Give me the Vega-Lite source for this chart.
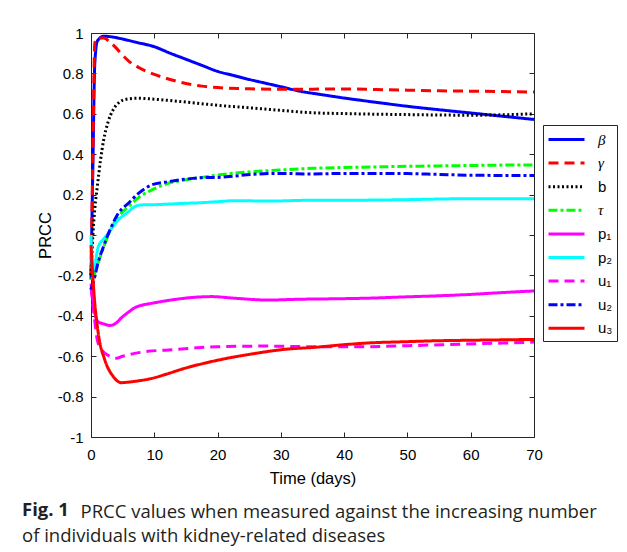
{
  "$schema": "https://vega.github.io/schema/vega-lite/v6.json",
  "width": 443,
  "height": 404,
  "autosize": "none",
  "padding": {"left": 91, "top": 33, "right": 93, "bottom": 115},
  "background": "white",
  "config": {
    "font": "Liberation Sans",
    "view": {"stroke": "#262626", "strokeWidth": 1},
    "axis": {
      "domainColor": "#262626", "tickColor": "#262626", "labelColor": "#000000", "titleColor": "#000000",
      "labelFontSize": 15, "titleFontSize": 16.5, "titleFontWeight": "normal", "grid": false,
      "labelFont": "Liberation Sans", "titleFont": "Liberation Sans", "tickSize": -5, "labelFlush": false
    },
    "legend": {
      "orient": "none", "legendX": 452, "legendY": 92,
      "strokeColor": "#262626", "fillColor": "white", "padding": 4,
      "symbolType": "M-2,0H2", "symbolSize": 324, "symbolStrokeWidth": 3, "symbolOffset": 9,
      "labelFontSize": 15, "labelFont": "Liberation Sans", "labelColor": "#000000", "rowPadding": 4.6, "labelOffset": 21
    }
  },
  "title": {
    "text": "Fig. 1",
    "orient": "bottom", "anchor": "start", "frame": "group", "dx": -69, "offset": -20,
    "font": "Open Sans", "fontSize": 18.5, "fontWeight": "bold", "color": "#231f20",
    "subtitle": "of individuals with kidney-related diseases",
    "subtitleFont": "Open Sans", "subtitleFontSize": 18.5, "subtitleColor": "#231f20", "subtitleFontWeight": "normal",
    "subtitlePadding": 7.5
  },
  "data": {"values": [
    {"s":"β","t":0,"v":-0.22},{"s":"β","t":0.3,"v":0.35},{"s":"β","t":0.6,"v":0.85},{"s":"β","t":1,"v":0.96},{"s":"β","t":2,"v":0.984},{"s":"β","t":3,"v":0.982},{"s":"β","t":5,"v":0.97},{"s":"β","t":7,"v":0.955},{"s":"β","t":10,"v":0.932},{"s":"β","t":12.5,"v":0.9},{"s":"β","t":15,"v":0.87},{"s":"β","t":17.5,"v":0.84},{"s":"β","t":20,"v":0.81},{"s":"β","t":22.5,"v":0.79},{"s":"β","t":25,"v":0.77},{"s":"β","t":27.5,"v":0.752},{"s":"β","t":30,"v":0.734},{"s":"β","t":33,"v":0.712},{"s":"β","t":36,"v":0.697},{"s":"β","t":40,"v":0.678},{"s":"β","t":45,"v":0.657},{"s":"β","t":50,"v":0.637},{"s":"β","t":55,"v":0.62},{"s":"β","t":60,"v":0.604},{"s":"β","t":65,"v":0.588},{"s":"β","t":70,"v":0.572},
    {"s":"γ","t":0,"v":-0.2},{"s":"γ","t":0.3,"v":0.4},{"s":"γ","t":0.6,"v":0.95},{"s":"γ","t":1,"v":0.975},{"s":"γ","t":2,"v":0.975},{"s":"γ","t":3,"v":0.955},{"s":"γ","t":4,"v":0.925},{"s":"γ","t":5,"v":0.89},{"s":"γ","t":6,"v":0.86},{"s":"γ","t":7.5,"v":0.83},{"s":"γ","t":10,"v":0.795},{"s":"γ","t":12.5,"v":0.77},{"s":"γ","t":15,"v":0.75},{"s":"γ","t":17.5,"v":0.737},{"s":"γ","t":20,"v":0.73},{"s":"γ","t":25,"v":0.724},{"s":"γ","t":30,"v":0.721},{"s":"γ","t":35,"v":0.722},{"s":"γ","t":40,"v":0.723},{"s":"γ","t":45,"v":0.72},{"s":"γ","t":50,"v":0.717},{"s":"γ","t":55,"v":0.714},{"s":"γ","t":60,"v":0.712},{"s":"γ","t":65,"v":0.71},{"s":"γ","t":70,"v":0.708},
    {"s":"b","t":0,"v":-0.2},{"s":"b","t":0.3,"v":0.0},{"s":"b","t":0.6,"v":0.13},{"s":"b","t":1,"v":0.24},{"s":"b","t":1.5,"v":0.37},{"s":"b","t":2,"v":0.47},{"s":"b","t":2.7,"v":0.56},{"s":"b","t":3.5,"v":0.62},{"s":"b","t":4.6,"v":0.66},{"s":"b","t":5.6,"v":0.672},{"s":"b","t":7.5,"v":0.677},{"s":"b","t":9.7,"v":0.673},{"s":"b","t":12,"v":0.667},{"s":"b","t":15,"v":0.658},{"s":"b","t":17.5,"v":0.65},{"s":"b","t":20,"v":0.642},{"s":"b","t":25,"v":0.63},{"s":"b","t":30,"v":0.617},{"s":"b","t":35,"v":0.605},{"s":"b","t":40,"v":0.601},{"s":"b","t":45,"v":0.598},{"s":"b","t":50,"v":0.596},{"s":"b","t":55,"v":0.594},{"s":"b","t":60,"v":0.593},{"s":"b","t":65,"v":0.595},{"s":"b","t":70,"v":0.6},
    {"s":"τ","t":0,"v":-0.22},{"s":"τ","t":0.5,"v":-0.2},{"s":"τ","t":1,"v":-0.15},{"s":"τ","t":2,"v":-0.06},{"s":"τ","t":3,"v":0.02},{"s":"τ","t":4.3,"v":0.09},{"s":"τ","t":5.9,"v":0.14},{"s":"τ","t":7.5,"v":0.185},{"s":"τ","t":9.6,"v":0.223},{"s":"τ","t":12.2,"v":0.256},{"s":"τ","t":14.8,"v":0.272},{"s":"τ","t":17.5,"v":0.285},{"s":"τ","t":20,"v":0.297},{"s":"τ","t":25,"v":0.312},{"s":"τ","t":30,"v":0.322},{"s":"τ","t":35,"v":0.33},{"s":"τ","t":40,"v":0.334},{"s":"τ","t":45,"v":0.337},{"s":"τ","t":50,"v":0.34},{"s":"τ","t":55,"v":0.342},{"s":"τ","t":60,"v":0.344},{"s":"τ","t":65,"v":0.346},{"s":"τ","t":70,"v":0.347},
    {"s":"p₁","t":0,"v":-0.24},{"s":"p₁","t":0.3,"v":-0.32},{"s":"p₁","t":0.7,"v":-0.4},{"s":"p₁","t":1.15,"v":-0.43},{"s":"p₁","t":2,"v":-0.44},{"s":"p₁","t":3,"v":-0.448},{"s":"p₁","t":4,"v":-0.435},{"s":"p₁","t":4.8,"v":-0.41},{"s":"p₁","t":6,"v":-0.38},{"s":"p₁","t":6.9,"v":-0.36},{"s":"p₁","t":8,"v":-0.348},{"s":"p₁","t":9.6,"v":-0.338},{"s":"p₁","t":12,"v":-0.325},{"s":"p₁","t":14.8,"v":-0.313},{"s":"p₁","t":17,"v":-0.307},{"s":"p₁","t":19.1,"v":-0.305},{"s":"p₁","t":22.7,"v":-0.313},{"s":"p₁","t":28,"v":-0.322},{"s":"p₁","t":33,"v":-0.318},{"s":"p₁","t":38,"v":-0.316},{"s":"p₁","t":43.5,"v":-0.313},{"s":"p₁","t":50,"v":-0.306},{"s":"p₁","t":54,"v":-0.302},{"s":"p₁","t":60,"v":-0.294},{"s":"p₁","t":65,"v":-0.285},{"s":"p₁","t":70,"v":-0.277},
    {"s":"p₂","t":0,"v":0.0},{"s":"p₂","t":0.3,"v":-0.18},{"s":"p₂","t":0.6,"v":-0.15},{"s":"p₂","t":1.15,"v":-0.058},{"s":"p₂","t":2,"v":-0.02},{"s":"p₂","t":2.7,"v":0.008},{"s":"p₂","t":4.3,"v":0.074},{"s":"p₂","t":5.9,"v":0.115},{"s":"p₂","t":6.9,"v":0.14},{"s":"p₂","t":8,"v":0.149},{"s":"p₂","t":10,"v":0.15},{"s":"p₂","t":12.2,"v":0.153},{"s":"p₂","t":15,"v":0.157},{"s":"p₂","t":17.5,"v":0.16},{"s":"p₂","t":20,"v":0.165},{"s":"p₂","t":22.7,"v":0.17},{"s":"p₂","t":28,"v":0.168},{"s":"p₂","t":35,"v":0.172},{"s":"p₂","t":40,"v":0.172},{"s":"p₂","t":45,"v":0.173},{"s":"p₂","t":50,"v":0.175},{"s":"p₂","t":55,"v":0.178},{"s":"p₂","t":60,"v":0.18},{"s":"p₂","t":65,"v":0.18},{"s":"p₂","t":70,"v":0.18},
    {"s":"u₁","t":0,"v":-0.26},{"s":"u₁","t":0.5,"v":-0.4},{"s":"u₁","t":1,"v":-0.52},{"s":"u₁","t":1.7,"v":-0.57},{"s":"u₁","t":3,"v":-0.6},{"s":"u₁","t":4,"v":-0.61},{"s":"u₁","t":5,"v":-0.6},{"s":"u₁","t":6.9,"v":-0.586},{"s":"u₁","t":9,"v":-0.576},{"s":"u₁","t":12.2,"v":-0.569},{"s":"u₁","t":16,"v":-0.56},{"s":"u₁","t":20,"v":-0.553},{"s":"u₁","t":28,"v":-0.55},{"s":"u₁","t":35,"v":-0.553},{"s":"u₁","t":43.5,"v":-0.553},{"s":"u₁","t":50,"v":-0.548},{"s":"u₁","t":59,"v":-0.54},{"s":"u₁","t":65,"v":-0.535},{"s":"u₁","t":70,"v":-0.53},
    {"s":"u₂","t":0,"v":-0.27},{"s":"u₂","t":0.5,"v":-0.22},{"s":"u₂","t":1,"v":-0.15},{"s":"u₂","t":2,"v":-0.055},{"s":"u₂","t":3,"v":0.025},{"s":"u₂","t":4.3,"v":0.107},{"s":"u₂","t":5.9,"v":0.157},{"s":"u₂","t":7.5,"v":0.206},{"s":"u₂","t":9.6,"v":0.248},{"s":"u₂","t":12.2,"v":0.264},{"s":"u₂","t":14.8,"v":0.276},{"s":"u₂","t":17.5,"v":0.284},{"s":"u₂","t":20,"v":0.285},{"s":"u₂","t":22.7,"v":0.292},{"s":"u₂","t":25.4,"v":0.3},{"s":"u₂","t":30,"v":0.305},{"s":"u₂","t":35,"v":0.302},{"s":"u₂","t":40,"v":0.305},{"s":"u₂","t":45,"v":0.305},{"s":"u₂","t":50,"v":0.304},{"s":"u₂","t":55,"v":0.3},{"s":"u₂","t":60,"v":0.296},{"s":"u₂","t":65,"v":0.295},{"s":"u₂","t":70,"v":0.295},
    {"s":"u₃","t":0,"v":-0.05},{"s":"u₃","t":0.5,"v":-0.3},{"s":"u₃","t":1.15,"v":-0.487},{"s":"u₃","t":2.2,"v":-0.62},{"s":"u₃","t":3.5,"v":-0.7},{"s":"u₃","t":4.8,"v":-0.731},{"s":"u₃","t":6,"v":-0.728},{"s":"u₃","t":7.5,"v":-0.722},{"s":"u₃","t":9.6,"v":-0.71},{"s":"u₃","t":12,"v":-0.688},{"s":"u₃","t":14.8,"v":-0.66},{"s":"u₃","t":17.5,"v":-0.638},{"s":"u₃","t":20,"v":-0.62},{"s":"u₃","t":25.4,"v":-0.589},{"s":"u₃","t":30.6,"v":-0.566},{"s":"u₃","t":35.4,"v":-0.556},{"s":"u₃","t":40,"v":-0.543},{"s":"u₃","t":43.5,"v":-0.535},{"s":"u₃","t":50,"v":-0.528},{"s":"u₃","t":54,"v":-0.524},{"s":"u₃","t":60,"v":-0.521},{"s":"u₃","t":65,"v":-0.519},{"s":"u₃","t":70,"v":-0.517}
  ]},
  "layer": [
    {
      "mark": {"type": "line", "interpolate": "monotone", "strokeCap": "butt"},
      "encoding": {
        "x": {"field": "t", "type": "quantitative", "scale": {"domain": [0, 70], "nice": false, "zero": false},
              "axis": {"orient": "bottom", "title": "Time (days)", "values": [0,10,20,30,40,50,60,70], "domain": false, "labelPadding": 15, "titlePadding": 8}},
        "y": {"field": "v", "type": "quantitative", "scale": {"domain": [-1, 1], "nice": false, "zero": false},
              "axis": {"orient": "left", "title": "PRCC", "values": [-1,-0.8,-0.6,-0.4,-0.2,0,0.2,0.4,0.6,0.8,1], "domain": false, "labelPadding": 13, "titlePadding": 4,
                       "labelExpr": "replace(format(datum.value, '.1~f'), '\u2212', '-')"}},
        "color": {"field": "s", "type": "nominal",
                  "scale": {"domain": ["β","γ","b","τ","p₁","p₂","u₁","u₂","u₃"], "range": ["#0000ff","#ff0000","#000000","#00ff00","#ff00ff","#00ffff","#ff00ff","#0000ff","#ff0000"]},
                  "legend": {"title": null,
                             "encode": {"labels": {"update": {"fontStyle": {"signal": "indexof(['β','γ','τ'], datum.label) >= 0 ? 'italic' : 'normal'"},
                                                              "font": {"signal": "indexof(['β','γ','τ'], datum.label) >= 0 ? 'Liberation Serif' : 'Liberation Sans'"}}}}}},
        "strokeDash": {"field": "s", "type": "nominal",
                       "scale": {"domain": ["β","γ","b","τ","p₁","p₂","u₁","u₂","u₃"], "range": [[1,0],[10,6],[2,2.5],[9,3,3,3],[1,0],[1,0],[10,6],[9,3,3,3],[1,0]]},
                       "legend": {"title": null}},
        "strokeWidth": {"field": "s", "type": "nominal",
                        "scale": {"domain": ["β","γ","b","τ","p₁","p₂","u₁","u₂","u₃"], "range": [3,3,2.5,3,4.5,5,3,3,3.5]},
                        "legend": null}
      }
    },
    {
      "mark": {"type": "line", "opacity": 0},
      "encoding": {
        "x": {"field": "t", "type": "quantitative",
              "axis": {"orient": "top", "title": "PRCC values when measured against the increasing number", "labels": false, "domain": false, "values": [0,10,20,30,40,50,60,70],
                       "titleFont": "Open Sans", "titleFontSize": 18.5, "titleFontWeight": "normal", "titleColor": "#231f20",
                       "titleAlign": "left", "titleBaseline": "alphabetic", "titleAngle": 0, "titleX": -11, "titleY": 484}},
        "y": {"field": "v", "type": "quantitative",
              "axis": {"orient": "right", "title": null, "labels": false, "domain": false, "values": [-1,-0.8,-0.6,-0.4,-0.2,0,0.2,0.4,0.6,0.8,1]}},
        "detail": {"field": "s", "type": "nominal"}
      }
    }
  ],
  "resolve": {"axis": {"x": "independent", "y": "independent"}}
}
